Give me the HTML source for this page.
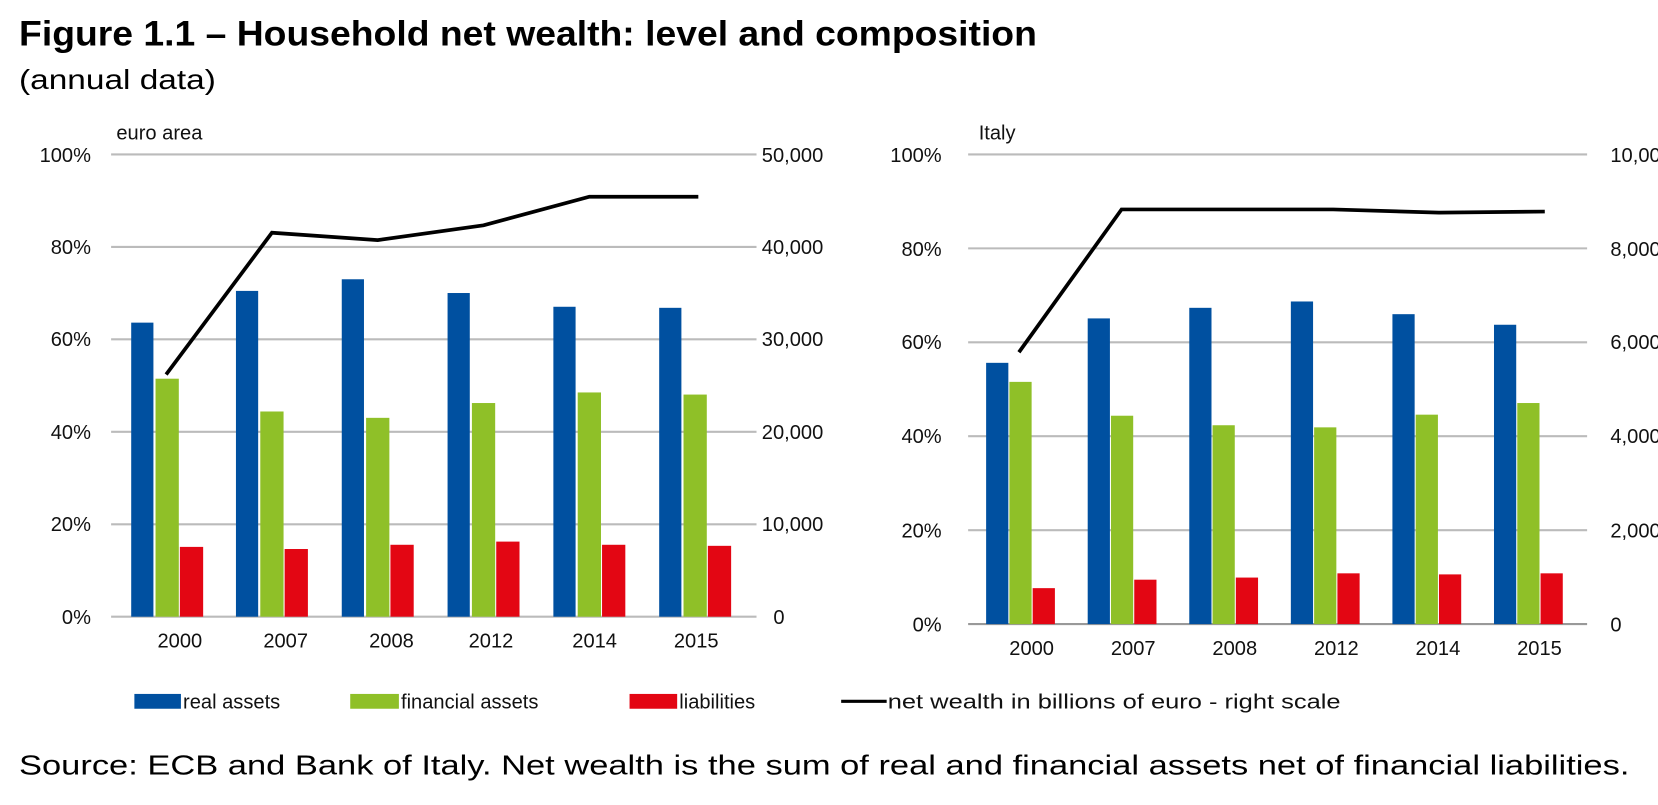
<!DOCTYPE html>
<html><head><meta charset="utf-8"><style>
html,body{margin:0;padding:0;background:#fff;}
svg{display:block;font-family:"Liberation Sans",sans-serif;}
</style></head><body>
<svg width="1658" height="805" viewBox="0 0 1567 761" preserveAspectRatio="none" xmlns="http://www.w3.org/2000/svg">
<text x="18" y="43" font-size="33" font-weight="bold" textLength="962" lengthAdjust="spacingAndGlyphs">Figure 1.1 – Household net wealth: level and composition</text>
<text x="18" y="84" font-size="26" textLength="186" lengthAdjust="spacingAndGlyphs">(annual data)</text>
<g font-size="19" fill="#111">
<text x="110" y="132">euro area</text>
<g stroke="#bbb" stroke-width="2">
<line x1="105" x2="715" y1="146" y2="146"/><line x1="105" x2="715" y1="233.4" y2="233.4"/>
<line x1="105" x2="715" y1="320.8" y2="320.8"/><line x1="105" x2="715" y1="408.2" y2="408.2"/>
<line x1="105" x2="715" y1="495.6" y2="495.6"/><line x1="105" x2="715" y1="583" y2="583"/>
</g>
<g text-anchor="end">
<text x="86" y="153">100%</text><text x="86" y="240">80%</text><text x="86" y="327">60%</text>
<text x="86" y="415">40%</text><text x="86" y="502">20%</text><text x="86" y="590">0%</text>
</g>
<g>
<text x="720" y="153">50,000</text><text x="720" y="240">40,000</text><text x="720" y="327">30,000</text>
<text x="720" y="415">20,000</text><text x="720" y="502">10,000</text><text x="731" y="590">0</text>
</g>
<g text-anchor="middle">
<text x="170" y="612">2000</text><text x="270" y="612">2007</text><text x="370" y="612">2008</text>
<text x="464" y="612">2012</text><text x="562" y="612">2014</text><text x="658" y="612">2015</text>
</g>
<g fill="#0050a0">
<rect x="124" y="305" width="21" height="278"/><rect x="223" y="275" width="21" height="308"/>
<rect x="323" y="264" width="21" height="319"/><rect x="423" y="277" width="21" height="306"/>
<rect x="523" y="290" width="21" height="293"/><rect x="623" y="291" width="21" height="292"/>
</g>
<g fill="#8fc028">
<rect x="147" y="358" width="22" height="225"/><rect x="246" y="389" width="22" height="194"/>
<rect x="346" y="395" width="22" height="188"/><rect x="446" y="381" width="22" height="202"/>
<rect x="546" y="371" width="22" height="212"/><rect x="646" y="373" width="22" height="210"/>
</g>
<g fill="#e30613">
<rect x="170" y="517" width="22" height="66"/><rect x="269" y="519" width="22" height="64"/>
<rect x="369" y="515" width="22" height="68"/><rect x="469" y="512" width="22" height="71"/>
<rect x="569" y="515" width="22" height="68"/><rect x="669" y="516" width="22" height="67"/>
</g>
<polyline fill="none" stroke="#000" stroke-width="3.5" points="157,354 257,220 357,227 457,213 557,186 660,186"/>
<text x="925" y="132">Italy</text>
<g stroke="#bbb" stroke-width="2">
<line x1="915" x2="1500" y1="146" y2="146"/><line x1="915" x2="1500" y1="234.8" y2="234.8"/>
<line x1="915" x2="1500" y1="323.6" y2="323.6"/><line x1="915" x2="1500" y1="412.4" y2="412.4"/>
<line x1="915" x2="1500" y1="501.2" y2="501.2"/>
</g>
<line x1="915" x2="1500" y1="590" y2="590" stroke="#999" stroke-width="2"/>
<g text-anchor="end">
<text x="890" y="153">100%</text><text x="890" y="242">80%</text><text x="890" y="330">60%</text>
<text x="890" y="419">40%</text><text x="890" y="508">20%</text><text x="890" y="597">0%</text>
</g>
<g>
<text x="1522" y="153">10,000</text><text x="1522" y="242">8,000</text><text x="1522" y="330">6,000</text>
<text x="1522" y="419">4,000</text><text x="1522" y="508">2,000</text><text x="1522" y="597">0</text>
</g>
<g text-anchor="middle">
<text x="975" y="619">2000</text><text x="1071" y="619">2007</text><text x="1167" y="619">2008</text>
<text x="1263" y="619">2012</text><text x="1359" y="619">2014</text><text x="1455" y="619">2015</text>
</g>
<g fill="#0050a0">
<rect x="932" y="343" width="21" height="247"/><rect x="1028" y="301" width="21" height="289"/>
<rect x="1124" y="291" width="21" height="299"/><rect x="1220" y="285" width="21" height="305"/>
<rect x="1316" y="297" width="21" height="293"/><rect x="1412" y="307" width="21" height="283"/>
</g>
<g fill="#8fc028">
<rect x="954" y="361" width="21" height="229"/><rect x="1050" y="393" width="21" height="197"/>
<rect x="1146" y="402" width="21" height="188"/><rect x="1242" y="404" width="21" height="186"/>
<rect x="1338" y="392" width="21" height="198"/><rect x="1434" y="381" width="21" height="209"/>
</g>
<g fill="#e30613">
<rect x="976" y="556" width="21" height="34"/><rect x="1072" y="548" width="21" height="42"/>
<rect x="1168" y="546" width="21" height="44"/><rect x="1264" y="542" width="21" height="48"/>
<rect x="1360" y="543" width="21" height="47"/><rect x="1456" y="542" width="21" height="48"/>
</g>
<polyline fill="none" stroke="#000" stroke-width="3.5" points="963,333 1060,198 1160,198 1260,198 1360,201 1460,200"/>
<rect x="127" y="656" width="44" height="14" fill="#0050a0"/><text x="173" y="670">real assets</text>
<rect x="331" y="656" width="46" height="14" fill="#8fc028"/><text x="379" y="670">financial assets</text>
<rect x="595" y="656" width="45" height="14" fill="#e30613"/><text x="642" y="670">liabilities</text>
<line x1="795" x2="838" y1="663" y2="663" stroke="#000" stroke-width="3"/><text x="839" y="670" textLength="428" lengthAdjust="spacingAndGlyphs">net wealth in billions of euro - right scale</text>
</g>
<text x="18" y="732" font-size="26" textLength="1522" lengthAdjust="spacingAndGlyphs">Source: ECB and Bank of Italy. Net wealth is the sum of real and financial assets net of financial liabilities.</text>
</svg>
</body></html>
